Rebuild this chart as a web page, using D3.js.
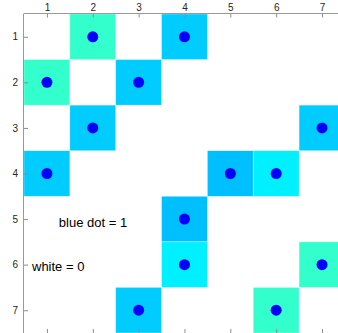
<!DOCTYPE html>
<html>
<head>
<meta charset="utf-8">
<script src="https://cdn.jsdelivr.net/npm/d3@7"></script>
<style>
  body { margin: 0; background: #fff; }
  svg { display: block; }
  text { font-family: "Liberation Sans", Arial, sans-serif; }
</style>
</head>
<body>
<div id="chart"></div>
<script>
const w = 338;
const h = 333;

// matrix labels
const rowLabels = [1, 2, 3, 4, 5, 6, 7];
const colLabels = [1, 2, 3, 4, 5, 6, 7];

// non-zero entries (blue dot = 1), shade value read from the colormap
const cellRows = [1, 1, 2, 2, 3, 3, 4, 4, 4, 5, 6, 6, 7, 7];
const cellCols = [2, 4, 1, 3, 2, 7, 1, 5, 6, 4, 4, 7, 3, 6];
const cellShades = [0.425, 0.325, 0.425, 0.325, 0.325, 0.325, 0.325, 0.3125, 0.36, 0.3125, 0.36, 0.425, 0.325, 0.425];

const notes = ['blue dot = 1', 'white = 0'];

const margin = { top: 14, left: 24 };
const cellW = 45.85;
const cellH = 45.57;

const svg = d3.select('#chart')
    .append('svg')
    .attr('width', w)
    .attr('height', h);

const x = d3.scaleBand()
    .domain(colLabels)
    .range([margin.left, margin.left + cellW * colLabels.length]);

const y = d3.scaleBand()
    .domain(rowLabels)
    .range([margin.top, margin.top + cellH * rowLabels.length]);

// jet-like colormap
const jet = d3.scaleLinear()
    .domain([0, 0.125, 0.375, 0.625, 0.875, 1])
    .range(['#000080', '#0000ff', '#00ffff', '#ffff00', '#ff0000', '#800000']);

const cells = cellRows.map((r, i) => ({ row: r, col: cellCols[i], shade: cellShades[i] }));

svg.selectAll('rect.cell')
    .data(cells)
    .join('rect')
    .attr('class', 'cell')
    .attr('x', d => x(d.col))
    .attr('y', d => y(d.row))
    .attr('width', x.bandwidth())
    .attr('height', y.bandwidth())
    .attr('fill', d => jet(d.shade))
    .attr('stroke', '#ffffff')
    .attr('stroke-opacity', 0.5)
    .attr('stroke-width', 0.6);

svg.selectAll('circle.dot')
    .data(cells)
    .join('circle')
    .attr('class', 'dot')
    .attr('cx', d => x(d.col) + x.bandwidth() / 2)
    .attr('cy', d => y(d.row) + y.bandwidth() / 2)
    .attr('r', 5.5)
    .attr('fill', '#0000ff');

// axes (ticks point inward, like a boxed plot)
const colPoint = d3.scalePoint().domain(colLabels).range([x(1) + x.bandwidth() / 2, x(7) + x.bandwidth() / 2]);
const rowPoint = d3.scalePoint().domain(rowLabels).range([y(1) + y.bandwidth() / 2, y(7) + y.bandwidth() / 2]);

const topAxis = d3.axisTop(colPoint).tickSizeInner(-4).tickSizeOuter(0).tickPadding(2.5);
const leftAxis = d3.axisLeft(rowPoint).tickSizeInner(-4).tickSizeOuter(0).tickPadding(6);
const bottomAxis = d3.axisBottom(colPoint).tickSizeInner(-4).tickSizeOuter(0).tickFormat('');

const gTop = svg.append('g').attr('transform', `translate(0,${margin.top - 0.5})`).call(topAxis);
const gLeft = svg.append('g').attr('transform', `translate(${margin.left},0)`).call(leftAxis);
const gBottom = svg.append('g').attr('transform', `translate(0,${y.range()[1]})`).call(bottomAxis);

[gTop, gLeft, gBottom].forEach(g => {
    g.select('.domain').remove();
    g.selectAll('.tick line').attr('stroke', '#8c8c8c');
    g.selectAll('.tick text').attr('fill', '#262626').style('font-size', '10px');
});

svg.append('line')
    .attr('x1', margin.left).attr('x2', x.range()[1])
    .attr('y1', margin.top - 0.5).attr('y2', margin.top - 0.5)
    .attr('stroke', '#999');
svg.append('line')
    .attr('x1', margin.left - 0.5).attr('x2', margin.left - 0.5)
    .attr('y1', margin.top - 0.5).attr('y2', y.range()[1])
    .attr('stroke', '#999');

// notes
svg.append('text')
    .attr('x', 93)
    .attr('y', 227)
    .attr('text-anchor', 'middle')
    .style('font-size', '13px')
    .text(notes[0]);

svg.append('text')
    .attr('x', 32)
    .attr('y', 271)
    .style('font-size', '13px')
    .text(notes[1]);
</script>
</body>
</html>
